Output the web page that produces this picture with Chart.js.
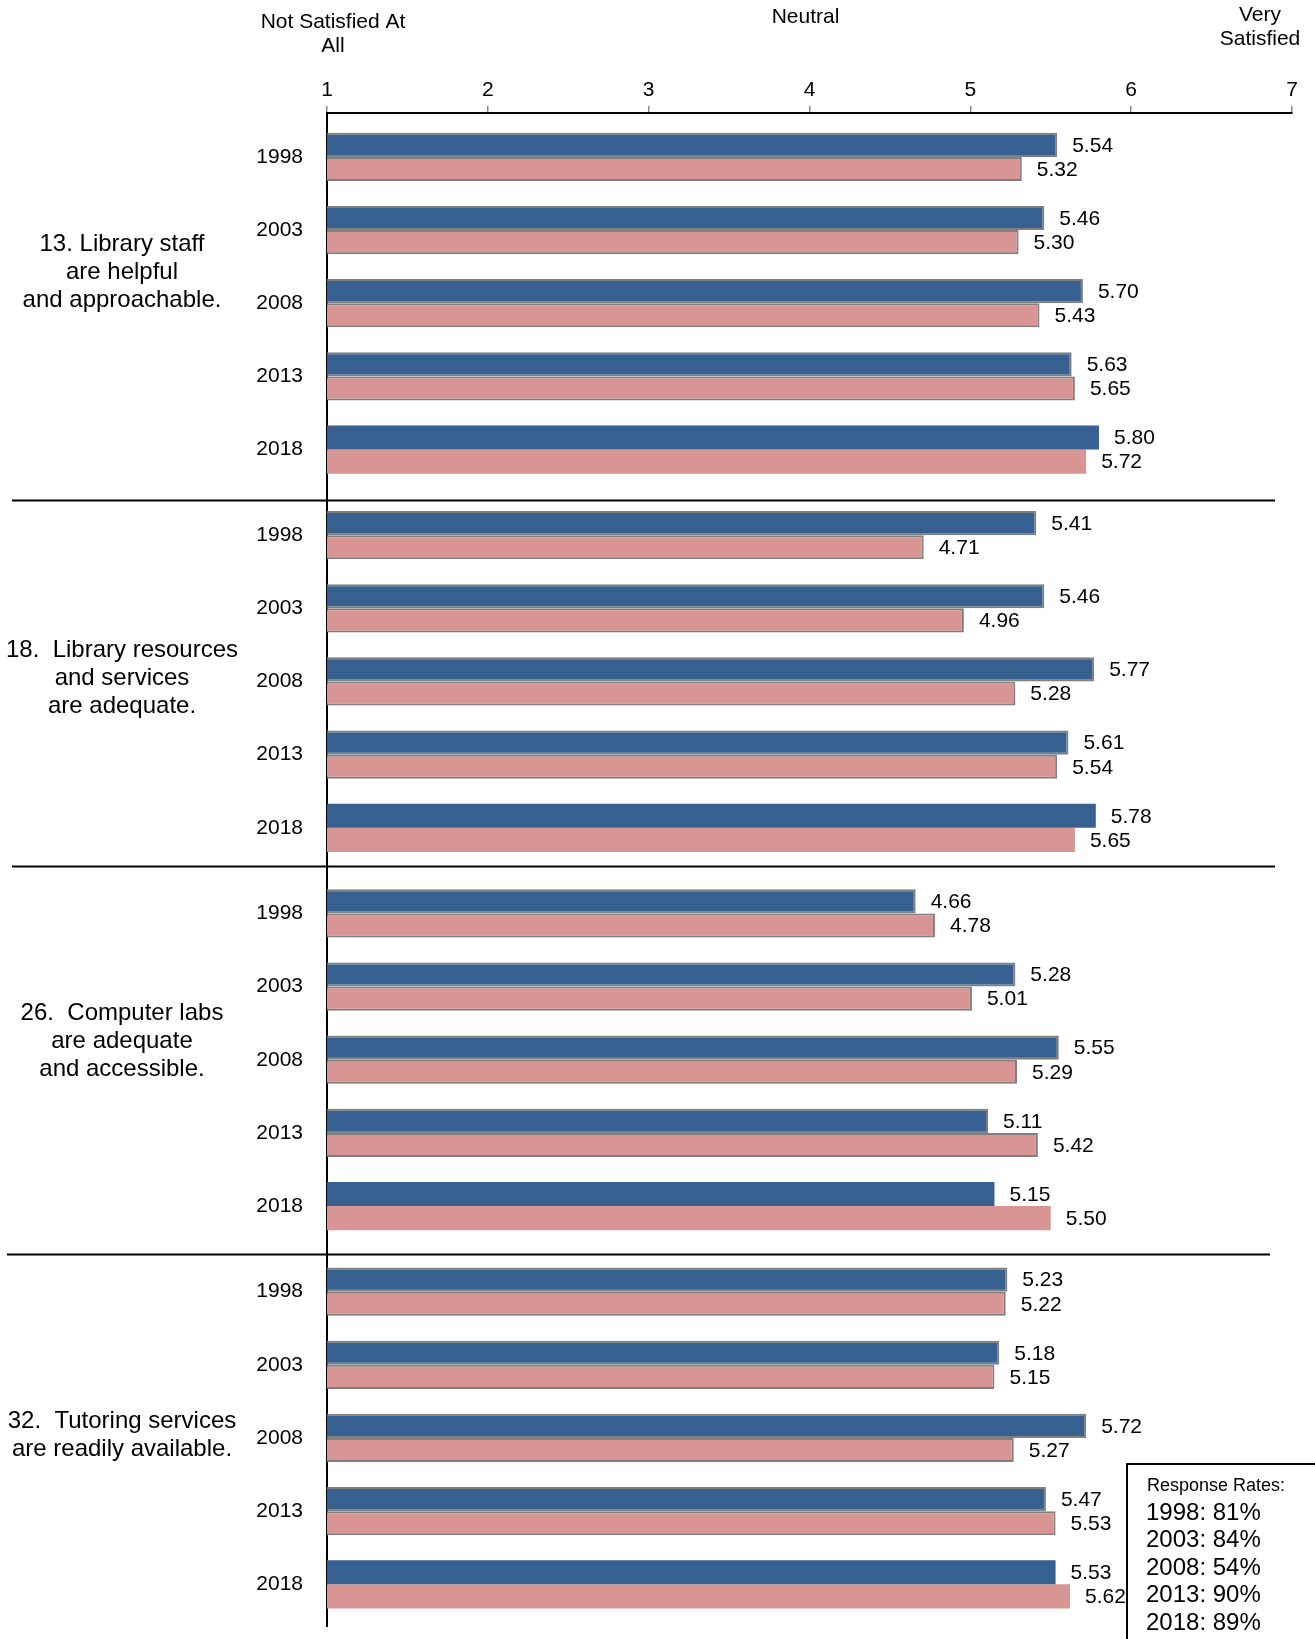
<!DOCTYPE html>
<html>
<head>
<meta charset="utf-8">
<script src="https://cdn.jsdelivr.net/npm/chart.js@4.4.1/dist/chart.umd.min.js"></script>
<style>
  body { margin: 0; background: #fff; }
  #wrap { position: relative; width: 1315px; height: 1639px; }
</style>
</head>
<body>
<div id="wrap"><canvas id="satisfactionChart"></canvas></div>
<script>
// Survey items, years and scores (blue = first bar, pink = second bar in each year)
const sections = [
    ['13. Library staff', 'are helpful', 'and approachable.'],
    ['18.  Library resources', 'and services', 'are adequate.'],
    ['26.  Computer labs', 'are adequate', 'and accessible.'],
    ['32.  Tutoring services', 'are readily available.']
];
const years = ['1998', '2003', '2008', '2013', '2018'];
const blueScores = [
    5.54, 5.46, 5.70, 5.63, 5.80,
    5.41, 5.46, 5.77, 5.61, 5.78,
    4.66, 5.28, 5.55, 5.11, 5.15,
    5.23, 5.18, 5.72, 5.47, 5.53
];
const pinkScores = [
    5.32, 5.30, 5.43, 5.65, 5.72,
    4.71, 4.96, 5.28, 5.54, 5.65,
    4.78, 5.01, 5.29, 5.42, 5.50,
    5.22, 5.15, 5.27, 5.53, 5.62
];
const scaleTicks = [1, 2, 3, 4, 5, 6, 7];
const scaleAnchors = [
    { value: 1, lines: ['Not Satisfied At', 'All'] },
    { value: 4, lines: ['Neutral'] },
    { value: 7, lines: ['Very', 'Satisfied'] }
];
const responseRates = ['1998: 81%', '2003: 84%', '2008: 54%', '2013: 90%', '2018: 89%'];

const FONT = "'Liberation Sans', Arial, sans-serif";
const SECTION_GAP = 0.17; // extra space between survey items, in bar-group units

// row index of every bar group (sections stacked top to bottom)
const rowPos = [];
sections.forEach((s, si) => {
    years.forEach((y, yi) => rowPos.push(si * (years.length + SECTION_GAP) + yi));
});

const noBorderLast = rowPos.map((p, i) => (i % years.length === years.length - 1 ? 0 : 2));

const valueLabels = {
    id: 'valueLabels',
    afterDatasetsDraw(chart) {
        const ctx = chart.ctx;
        ctx.save();
        ctx.font = '21px ' + FONT;
        ctx.fillStyle = '#000';
        ctx.textAlign = 'left';
        ctx.textBaseline = 'middle';
        chart.data.datasets.forEach((ds, di) => {
            chart.getDatasetMeta(di).data.forEach((bar, i) => {
                ctx.fillText(ds.data[i].x.toFixed(2), bar.x + 15, bar.y + 1);
            });
        });
        ctx.restore();
    }
};

const decorations = {
    id: 'decorations',
    afterDraw(chart) {
        const ctx = chart.ctx;
        const xs = chart.scales.x;
        const ys = chart.scales.y;
        ctx.save();
        ctx.fillStyle = '#000';

        // header text over the scale
        ctx.font = '21px ' + FONT;
        ctx.textBaseline = 'middle';
        ctx.textAlign = 'center';
        scaleAnchors.forEach(a => {
            let x = xs.getPixelForValue(a.value);
            let top = a.lines.length > 1 ? 22 : 17;
            if (a.value === 1) { x += 6; }
            else if (a.value === 7) { x -= 32; top = 15; }
            else { x -= 4; }
            a.lines.forEach((l, li) => ctx.fillText(l, x, top + li * 24));
        });

        // separators between survey items
        const sepShift = [0.11, -0.06, 0.07];
        ctx.strokeStyle = '#000';
        ctx.lineWidth = 2;
        for (let s = 1; s < sections.length; s++) {
            const prevLast = rowPos[s * years.length - 1];
            const nextFirst = rowPos[s * years.length];
            const y = Math.round(ys.getPixelForValue((prevLast + nextFirst) / 2 + sepShift[s - 1])) + 0.5;
            const x0 = s === sections.length - 1 ? 7 : 12;
            ctx.beginPath();
            ctx.moveTo(x0, y);
            ctx.lineTo(x0 + 1263, y);
            ctx.stroke();
        }

        // item labels on the left
        const labelShift = [-31, -3, -18, -3];
        ctx.font = '24px ' + FONT;
        ctx.textAlign = 'center';
        sections.forEach((lines, si) => {
            const mid = ys.getPixelForValue(rowPos[si * years.length + 2]) + labelShift[si];
            const start = mid - (lines.length - 1) * 28 / 2;
            lines.forEach((l, li) => ctx.fillText(l, 122, start + li * 28));
        });

        // response rate box
        ctx.fillStyle = '#fff';
        ctx.fillRect(1127, 1464, 200, 190);
        ctx.strokeStyle = '#000';
        ctx.lineWidth = 2;
        ctx.strokeRect(1127, 1464, 200, 190);
        ctx.fillStyle = '#000';
        ctx.textAlign = 'left';
        ctx.font = '18px ' + FONT;
        ctx.fillText('Response Rates:', 1147, 1486);
        ctx.font = '24px ' + FONT;
        responseRates.forEach((r, i) => ctx.fillText(r, 1146, 1513 + i * 27.5));
        ctx.restore();
    }
};

new Chart(document.getElementById('satisfactionChart'), {
    type: 'bar',
    data: {
        datasets: [{
            label: 'Blue',
            data: blueScores.map((v, i) => ({ x: v, y: rowPos[i] })),
            backgroundColor: '#36608f',
            borderColor: '#7f7f7f',
            borderWidth: noBorderLast
        }, {
            label: 'Pink',
            data: pinkScores.map((v, i) => ({ x: v, y: rowPos[i] })),
            backgroundColor: '#d99594',
            borderColor: '#7f7f7f',
            borderWidth: noBorderLast
        }]
    },
    options: {
        indexAxis: 'y',
        responsive: true,
        maintainAspectRatio: false,
        animation: false,
        layout: { padding: { left: 0, right: 23, top: 0, bottom: 13 } },
        datasets: { bar: { categoryPercentage: 0.66, barPercentage: 1.0 } },
        plugins: { legend: { display: false }, tooltip: { enabled: false } },
        scales: {
            x: {
                type: 'linear',
                position: 'top',
                min: 1,
                max: 7,
                afterBuildTicks: scale => { scale.ticks = scaleTicks.map(v => ({ value: v })); },
                afterFit: scale => { scale.height = 113; },
                ticks: { font: { size: 21, family: FONT }, color: '#000', padding: 3 },
                grid: { drawOnChartArea: false, drawTicks: true, tickLength: 7, color: '#888', lineWidth: 1.5 },
                border: { display: true, color: '#000', width: 2 }
            },
            y: {
                type: 'linear',
                reverse: true,
                offset: false,
                min: -0.6,
                max: 20.08,
                afterBuildTicks: scale => { scale.ticks = rowPos.map(v => ({ value: v })); },
                afterFit: scale => {
                    scale.width = 327;
                    scale.paddingTop = 0;
                    scale.paddingBottom = 0;
                },
                ticks: {
                    autoSkip: false,
                    font: { size: 21, family: FONT },
                    color: '#000',
                    padding: 16,
                    callback: (value, index) => years[index % years.length]
                },
                grid: { display: false },
                border: { display: true, color: '#000', width: 2 }
            }
        }
    },
    plugins: [valueLabels, decorations]
});
</script>
</body>
</html>
